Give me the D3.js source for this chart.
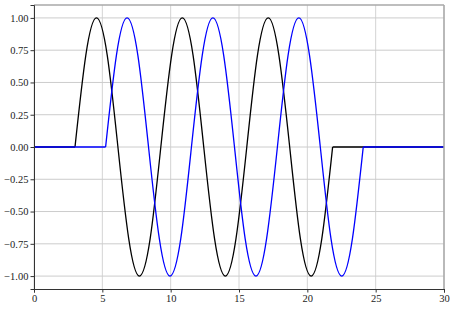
<!DOCTYPE html>
<html>
<head>
<meta charset="utf-8">
<script src="https://cdn.jsdelivr.net/npm/d3@7"></script>
<style>
  body { margin: 0; background: #fff; }
  svg { display: block; }
</style>
</head>
<body>
<svg id="chart"></svg>
<script>
// values (quarter-period samples of each wave)
const xTicks = [0, 5, 10, 15, 20, 25, 30];
const yTicks = [-1, -0.75, -0.5, -0.25, 0, 0.25, 0.5, 0.75, 1];

const blackWaveX = [3.00, 3.79, 4.57, 5.36, 6.14, 6.93, 7.71, 8.50, 9.28, 10.07, 10.85, 11.64, 12.42,
  13.21, 14.00, 14.78, 15.57, 16.35, 17.14, 17.92, 18.71, 19.49, 20.28, 21.06, 21.85];
const blueWaveX = [5.24, 6.03, 6.81, 7.60, 8.38, 9.17, 9.95, 10.74, 11.52, 12.31, 13.09, 13.88, 14.67,
  15.45, 16.24, 17.02, 17.81, 18.59, 19.38, 20.16, 20.95, 21.73, 22.52, 23.30, 24.09];
const blackWaveY = [0, 0.71, 1, 0.71, 0, -0.71, -1, -0.71, 0, 0.71, 1, 0.71, 0, -0.71, -1, -0.71,
  0, 0.71, 1, 0.71, 0, -0.71, -1, -0.71, 0];
const blueWaveY = [0, 0.71, 1, 0.71, 0, -0.71, -1, -0.71, 0, 0.71, 1, 0.71, 0, -0.71, -1, -0.71,
  0, 0.71, 1, 0.71, 0, -0.71, -1, -0.71, 0];

const series = [
  { color: '#000000', waveX: blackWaveX, waveY: blackWaveY },
  { color: '#0000ff', waveX: blueWaveX, waveY: blueWaveY },
];

const WIDTH = 454;
const HEIGHT = 310;
const MARGINS = { top: 5, right: 10, bottom: 21, left: 34 };
const CHART_WIDTH = WIDTH - MARGINS.left - MARGINS.right;
const CHART_HEIGHT = HEIGHT - MARGINS.top - MARGINS.bottom;
const FONT = "'Liberation Serif', 'Times New Roman', Times, serif";

const svg = d3.select('#chart').attr('width', WIDTH).attr('height', HEIGHT);
const chart = svg.append('g').attr('transform', `translate(${MARGINS.left},${MARGINS.top})`);

const x = d3.scaleLinear().domain([0, 30]).range([0, CHART_WIDTH]);
const y = d3.scaleLinear().domain([-1.1, 1.1]).range([CHART_HEIGHT, 0]);

// grid
chart.append('g')
  .selectAll('line')
  .data(xTicks)
  .enter()
  .append('line')
  .attr('x1', (d) => x(d)).attr('x2', (d) => x(d))
  .attr('y1', 0).attr('y2', CHART_HEIGHT)
  .attr('stroke', '#d4d4d4').attr('stroke-width', 1);

chart.append('g')
  .selectAll('line')
  .data(yTicks)
  .enter()
  .append('line')
  .attr('x1', 0).attr('x2', CHART_WIDTH)
  .attr('y1', (d) => y(d)).attr('y2', (d) => y(d))
  .attr('stroke', '#cccccc').attr('stroke-width', 1);

// curves: flat zero parts straight, wave part as a natural spline
const flat = d3.line().x((d) => x(d[0])).y((d) => y(d[1]));
const wave = d3.line().x((d) => x(d[0])).y((d) => y(d[1])).curve(d3.curveNatural);

series.forEach((s) => {
  const pts = s.waveX.map((v, i) => [v, s.waveY[i]]);
  const first = pts[0];
  const last = pts[pts.length - 1];
  const d =
    flat([[0, 0], first]) +
    wave(pts) +
    flat([last, [30, 0]]);
  chart.append('path')
    .attr('d', d)
    .attr('fill', 'none')
    .attr('stroke', s.color)
    .attr('stroke-width', 1.3)
    .attr('stroke-linejoin', 'round');
});

// spines
chart.append('line').attr('x1', 0).attr('x2', CHART_WIDTH).attr('y1', 0).attr('y2', 0)
  .attr('stroke', '#a8a8a8').attr('stroke-width', 1.5);
chart.append('line').attr('x1', CHART_WIDTH).attr('x2', CHART_WIDTH).attr('y1', 0).attr('y2', CHART_HEIGHT)
  .attr('stroke', '#a8a8a8').attr('stroke-width', 1.5);

const fmtY = (d) => d3.format('.2f')(d).replace('-', '\u2212');

const xAxis = chart.append('g')
  .attr('transform', `translate(0,${CHART_HEIGHT})`)
  .call(d3.axisBottom(x).tickValues(xTicks).tickSize(3.5).tickPadding(2).tickFormat(d3.format('d')));
const yAxis = chart.append('g')
  .call(d3.axisLeft(y).tickValues(yTicks).tickSize(3.5).tickPadding(2).tickFormat(fmtY));

[xAxis, yAxis].forEach((a) => {
  a.attr('font-family', null).attr('font-size', null);
  a.select('.domain').attr('stroke', '#333').attr('stroke-width', 1);
  a.selectAll('.tick line').attr('stroke', '#333');
  a.selectAll('.tick text')
    .attr('fill', '#222')
    .attr('font-family', FONT)
    .attr('font-size', 10.5)
    .style('font-family', FONT);
});
</script>
</body>
</html>
